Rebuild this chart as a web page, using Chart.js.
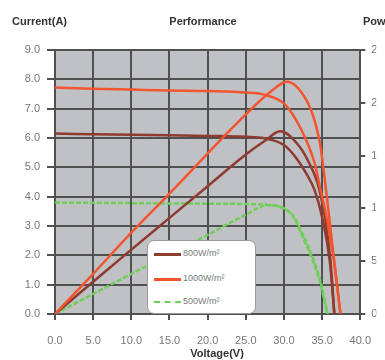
<!DOCTYPE html>
<html>
<head>
<meta charset="utf-8">
<script src="https://cdn.jsdelivr.net/npm/chart.js@4.4.1/dist/chart.umd.min.js"></script>
<style>
  html, body { margin: 0; padding: 0; background: #fff; }
  #wrap { position: relative; width: 385px; height: 360px; overflow: hidden; }
  #legend {
    position: absolute; left: 147px; top: 240px; width: 109px; height: 74px;
    background: #fff; border: 1px solid #9a9a9a; border-radius: 7px;
    box-sizing: border-box; font-family: "Liberation Sans", Arial, sans-serif;
    font-size: 9px; color: #7a7a7a;
  }
  .item { position: absolute; left: 6px; height: 10px; }
  .item .line { position: absolute; left: 0; top: 4px; width: 27px; height: 0; }
  .item span { position: absolute; left: 29px; top: -1px; white-space: nowrap; }
</style>
</head>
<body>
<div id="wrap">
  <canvas id="chart" width="385" height="360"></canvas>
  <div id="legend"></div>
</div>
<script>
// I-V curves (current, left axis)
const v1000 = [0, 5, 10, 15, 20, 25, 27.5, 30, 31.6, 32.9, 34, 34.6, 35.5, 36.5, 37.4]
const i1000 = [7.72, 7.68, 7.65, 7.62, 7.6, 7.55, 7.47, 7.18, 6.61, 5.93, 5.15, 4.46, 3.4, 1.9, 0]
const v800 = [0, 5, 10, 15, 20, 25, 27.4, 30, 31.6, 32.9, 34, 35, 36, 36.6]
const i800 = [6.15, 6.13, 6.11, 6.09, 6.07, 6.04, 5.99, 5.76, 5.32, 4.8, 4.23, 3.3, 1.8, 0]
const v500 = [0, 5, 10, 15, 20, 25, 28, 30, 31.2, 32.5, 33.8, 34.8, 35.7]
const i500 = [3.8, 3.79, 3.78, 3.77, 3.76, 3.75, 3.72, 3.6, 3.35, 2.7, 1.9, 1.1, 0]

// P-V curves (power, right axis)
const pv1000 = [0, 5, 10, 15, 20, 25, 28, 30.4, 32.9, 34.1, 34.8, 35.5, 36.4, 37.4]
const p1000 = [0, 38, 77, 114, 152, 189, 209, 220, 203, 181, 158, 118, 62, 0]
const pv800 = [0, 5, 10, 15, 20, 25, 27.5, 29.5, 32.1, 33.3, 34.4, 35.4, 36.1, 36.6]
const p800 = [0, 30.5, 61, 91, 121, 151, 164, 173, 158, 143, 124, 90, 50, 0]
const pv500 = [0, 5, 10, 15, 20, 25, 27.8, 30, 31.2, 32.5, 33.8, 34.8, 35.7]
const p500 = [0, 19, 38, 56.5, 75, 94, 103, 100, 92, 72, 50, 28, 0]

const legendLabels = ['800W/m²', '1000W/m²', '500W/m²']
const colors = { '800': '#8e3b30', '1000': '#f2552f', '500': '#6fcf5a' }

const font = '"Liberation Sans", Arial, sans-serif'

function pts(xs, ys) {
  return xs.map((x, k) => ({ x: x, y: ys[k] }))
}

function series(label, xs, ys, color, axis, dash) {
  return {
    label: label,
    data: pts(xs, ys),
    yAxisID: axis,
    borderColor: color,
    borderWidth: 2.5,
    borderDash: dash || [],
    pointRadius: 0,
    fill: false,
    cubicInterpolationMode: 'monotone'
  }
}

const bgPlugin = {
  id: 'plotBg',
  beforeDraw(chart) {
    const a = chart.chartArea
    const ctx = chart.ctx
    ctx.save()
    ctx.fillStyle = '#c0c1c5'
    ctx.fillRect(a.left, a.top, a.right - a.left, a.bottom - a.top)
    ctx.restore()
  }
}

const textPlugin = {
  id: 'texts',
  afterDraw(chart) {
    const ctx = chart.ctx
    ctx.save()
    ctx.fillStyle = '#333'
    ctx.font = 'bold 11px ' + font
    ctx.textBaseline = 'middle'
    ctx.textAlign = 'left'
    ctx.fillText('Current(A)', 12, 22)
    ctx.fillText('Power(W)', 363, 22)
    ctx.textAlign = 'center'
    ctx.fillText('Performance', 203, 22)
    ctx.fillText('Voltage(V)', 217, 354)
    ctx.restore()
  }
}

new Chart(document.getElementById('chart').getContext('2d'), {
  type: 'line',
  data: {
    datasets: [
      series('1000 I', v1000, i1000, colors['1000'], 'y'),
      series('1000 P', pv1000, p1000, colors['1000'], 'y2'),
      series('800 I', v800, i800, colors['800'], 'y'),
      series('800 P', pv800, p800, colors['800'], 'y2'),
      series('500 I', v500, i500, colors['500'], 'y', [5, 2]),
      series('500 P', pv500, p500, colors['500'], 'y2', [5, 2])
    ]
  },
  options: {
    responsive: false,
    animation: false,
    layout: { padding: { top: 50, left: 0, right: 0, bottom: 0 } },
    plugins: {
      legend: { display: false },
      tooltip: { enabled: false }
    },
    scales: {
      x: {
        type: 'linear',
        min: 0,
        max: 40,
        ticks: {
          stepSize: 5,
          padding: 14,
          color: '#777',
          font: { family: font, size: 11 },
          callback: v => v.toFixed(1)
        },
        grid: { color: '#505050', lineWidth: 2, tickLength: 6 },
        border: { color: '#505050', width: 2 },
        afterFit(s) { s.height = 46 }
      },
      y: {
        position: 'left',
        min: 0,
        max: 9,
        ticks: {
          stepSize: 1,
          padding: 7,
          color: '#777',
          font: { family: font, size: 11 },
          callback: v => v.toFixed(1)
        },
        grid: { color: '#505050', lineWidth: 2, tickLength: 8 },
        border: { color: '#505050', width: 2 },
        afterFit(s) { s.width = 55 }
      },
      y2: {
        position: 'right',
        min: 0,
        max: 250,
        ticks: {
          stepSize: 50,
          padding: 6,
          color: '#777',
          font: { family: font, size: 11 }
        },
        grid: { drawOnChartArea: false, color: '#505050', lineWidth: 2, tickLength: 5 },
        border: { color: '#505050', width: 2 },
        afterFit(s) { s.width = 16 }
      }
    }
  },
  plugins: [bgPlugin, textPlugin]
})

// legend box drawn as html on top of the chart
const legend = document.getElementById('legend')
const legendKeys = ['800', '1000', '500']
const rowTops = [8, 33, 56]
legendKeys.forEach((key, k) => {
  const item = document.createElement('div')
  item.className = 'item'
  item.style.top = rowTops[k] + 'px'
  const line = document.createElement('div')
  line.className = 'line'
  line.style.borderTop = (key === '500' ? '2px dashed ' : '3px solid ') + colors[key]
  const text = document.createElement('span')
  text.textContent = legendLabels[k]
  item.appendChild(line)
  item.appendChild(text)
  legend.appendChild(item)
})
</script>
</body>
</html>
